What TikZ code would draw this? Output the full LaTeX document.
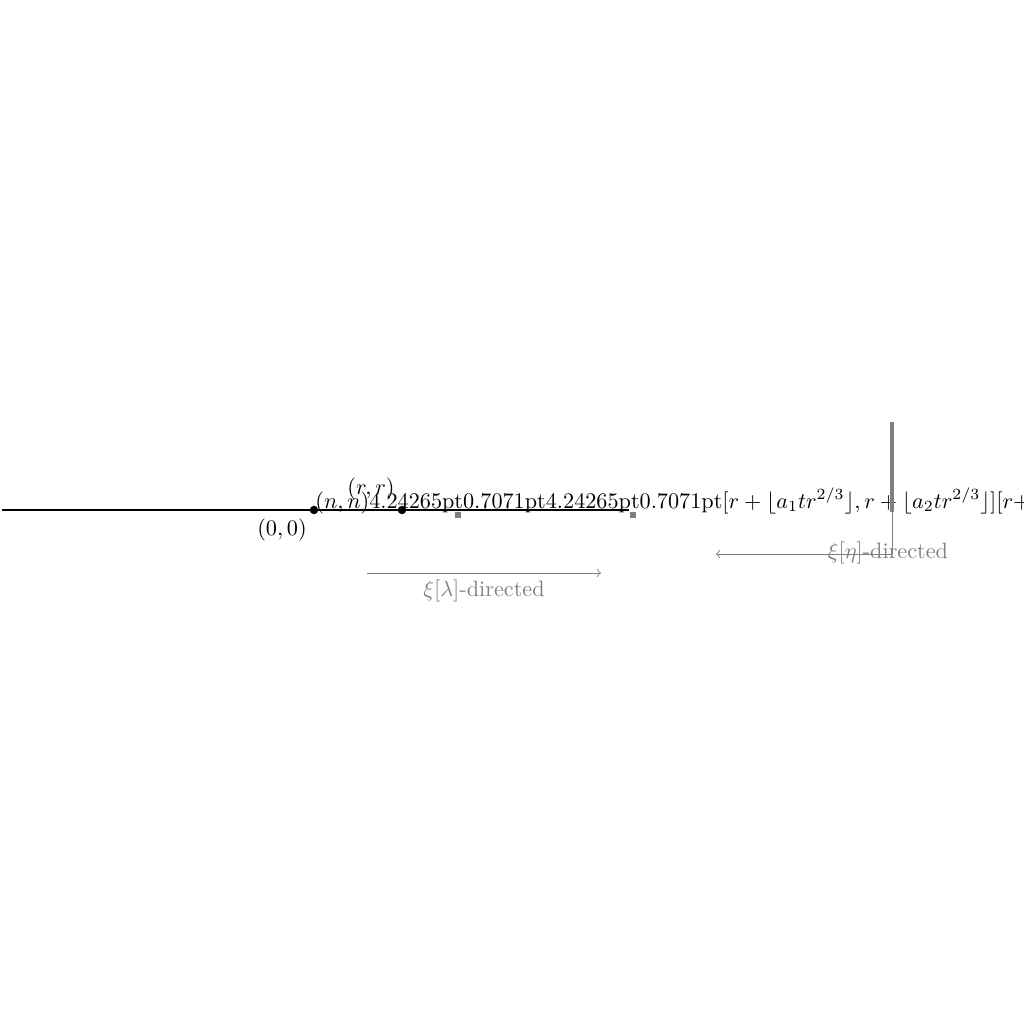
\documentclass[tikz,border=0pt]{standalone}
\begin{document}
\begin{tikzpicture}
    [ x={(0.45pt,0pt)}, y={(0pt,-0.45pt)}
    , dot/.style={circle, fill, inner sep=0pt, minimum size=3.8pt}
    , gbox/.style={fill=gray, inner sep=0pt, minimum size=3pt}
    , dirarrow/.style={gray, ->}
    , dirlabel/.style={text=gray}
    ]
\useasboundingbox (0,0) rectangle (1024,1024);
\coordinate (west end) at (2,510);
\coordinate (east end) at (629,510);
\draw[thick] (west end) -- (east end);
\node[dot] (origin) at (314,510) {};
\node[dot] (rr) at (402,510) {};
\node[gbox] (box1) at (458,515) {};
\node[gbox] (box2) at (633,515) {};
\node at (282,530) {$(0,0)$};
\node at (371,489) {$(r,r)$};
\node[anchor=base west, inner sep=0pt] (line text) at (315,508)
  {$(n,n)$4.24265pt0.7071pt4.24265pt0.7071pt$[r+\lfloor a_1tr^{2/3}\rfloor, r+\lfloor a_2tr^{2/3}\rfloor][r+$};
% the two directions
\coordinate (lam start) at (367,573);
\coordinate (lam end) at (601,573);
\draw[dirarrow] (lam start) -- (lam end);
\node[dirlabel] (lam label) at (484,591) {$\xi[\lambda]$-directed};
\coordinate (bar top) at (892,422);
\coordinate (bar foot) at (892,512);
\coordinate (eta start) at (892,554);
\coordinate (eta end) at (716,554);
\draw[gray, line width=1.4pt] (bar top) -- (bar foot);
\draw[gray] (bar foot) -- (eta start);
\draw[dirarrow] (eta start) -- (eta end);
\node[dirlabel] (eta label) at (888,553) {$\xi[\eta]$-directed};
\end{tikzpicture}
\end{document}
